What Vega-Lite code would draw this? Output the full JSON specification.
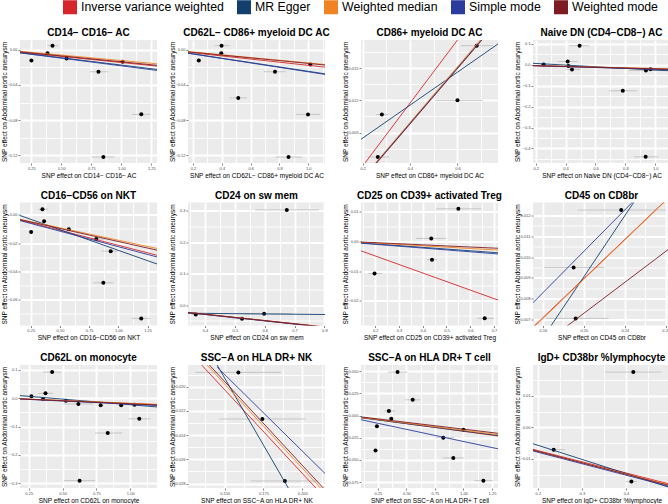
{
"$schema": "https://vega.github.io/schema/vega-lite/v6.json",
"padding": {"left": 0, "top": 0, "right": 0, "bottom": 0},
"spacing": {"row": 11.5, "column": 11},
"columns": 4,
"datasets": {
"pts": [
{"p":1,"x":0.25,"y":-0.0124,"lo":0.235,"hi":0.265},
{"p":1,"x":0.426,"y":0.0045,"lo":0.384,"hi":0.474},
{"p":1,"x":0.384,"y":-0.0041,"lo":0.37,"hi":0.4},
{"p":1,"x":0.543,"y":-0.0101,"lo":0.525,"hi":0.56},
{"p":1,"x":0.809,"y":-0.0251,"lo":0.739,"hi":0.886},
{"p":1,"x":1.01,"y":-0.0139,"lo":0.99,"hi":1.03},
{"p":1,"x":1.166,"y":-0.0734,"lo":1.087,"hi":1.241},
{"p":1,"x":0.85,"y":-0.1218,"lo":0.752,"hi":0.943},
{"p":2,"x":0.24,"y":-0.0124,"lo":0.225,"hi":0.255},
{"p":2,"x":0.398,"y":0.0045,"lo":0.349,"hi":0.455},
{"p":2,"x":0.396,"y":-0.0041,"lo":0.38,"hi":0.41},
{"p":2,"x":0.769,"y":-0.0251,"lo":0.691,"hi":0.844},
{"p":2,"x":1.014,"y":-0.0169,"lo":1.0,"hi":1.03},
{"p":2,"x":0.514,"y":-0.0548,"lo":0.455,"hi":0.573},
{"p":2,"x":0.998,"y":-0.0735,"lo":0.915,"hi":1.08},
{"p":2,"x":0.863,"y":-0.1219,"lo":0.773,"hi":0.957},
{"p":3,"x":0.681,"y":0.01709,"lo":0.614,"hi":0.75},
{"p":3,"x":0.6,"y":0.012,"lo":0.507,"hi":0.707},
{"p":3,"x":0.281,"y":0.01068,"lo":0.257,"hi":0.307},
{"p":3,"x":0.264,"y":0.00672,"lo":0.221,"hi":0.311},
{"p":4,"x":0.253,"y":0.002,"lo":0.235,"hi":0.272},
{"p":4,"x":0.494,"y":0.092,"lo":0.425,"hi":0.558},
{"p":4,"x":0.414,"y":0.016,"lo":0.348,"hi":0.48},
{"p":4,"x":0.419,"y":-0.006,"lo":0.4,"hi":0.44},
{"p":4,"x":0.443,"y":-0.022,"lo":0.403,"hi":0.503},
{"p":4,"x":0.938,"y":-0.027,"lo":0.823,"hi":1.05},
{"p":4,"x":0.969,"y":-0.021,"lo":0.95,"hi":0.99},
{"p":4,"x":0.783,"y":-0.124,"lo":0.69,"hi":0.878},
{"p":4,"x":0.936,"y":-0.44,"lo":0.858,"hi":1.02},
{"p":5,"x":0.253,"y":-0.0121,"lo":0.235,"hi":0.27},
{"p":5,"x":0.35,"y":0.0039,"lo":0.313,"hi":0.399},
{"p":5,"x":0.364,"y":-0.0046,"lo":0.35,"hi":0.38},
{"p":5,"x":0.576,"y":-0.0103,"lo":0.56,"hi":0.59},
{"p":5,"x":0.811,"y":-0.0172,"lo":0.742,"hi":0.885},
{"p":5,"x":0.934,"y":-0.0257,"lo":0.857,"hi":0.999},
{"p":5,"x":0.871,"y":-0.0481,"lo":0.785,"hi":0.957},
{"p":5,"x":1.195,"y":-0.0733,"lo":1.115,"hi":1.272},
{"p":6,"x":0.369,"y":-0.0298,"lo":0.355,"hi":0.385},
{"p":6,"x":0.524,"y":-0.0432,"lo":0.49,"hi":0.56},
{"p":6,"x":0.598,"y":-0.0278,"lo":0.53,"hi":0.69},
{"p":6,"x":0.674,"y":0.302,"lo":0.568,"hi":0.782},
{"p":7,"x":0.55,"y":0.0108,"lo":0.457,"hi":0.645},
{"p":7,"x":0.436,"y":0.0009,"lo":0.372,"hi":0.5},
{"p":7,"x":0.439,"y":-0.0062,"lo":0.418,"hi":0.46},
{"p":7,"x":0.197,"y":-0.0108,"lo":0.172,"hi":0.229},
{"p":7,"x":0.661,"y":-0.0258,"lo":0.63,"hi":0.7},
{"p":8,"x":0.2365,"y":0.01226,"lo":0.194,"hi":0.28},
{"p":8,"x":0.19,"y":0.0095,"lo":0.161,"hi":0.22},
{"p":8,"x":0.192,"y":0.00706,"lo":0.163,"hi":0.224},
{"p":9,"x":0.27,"y":0.0069,"lo":0.255,"hi":0.285},
{"p":9,"x":0.423,"y":0.092,"lo":0.356,"hi":0.49},
{"p":9,"x":0.374,"y":0.017,"lo":0.319,"hi":0.43},
{"p":9,"x":0.356,"y":-0.0034,"lo":0.34,"hi":0.37},
{"p":9,"x":0.525,"y":-0.009,"lo":0.51,"hi":0.54},
{"p":9,"x":0.617,"y":-0.0206,"lo":0.505,"hi":0.728},
{"p":9,"x":0.782,"y":-0.025,"lo":0.765,"hi":0.8},
{"p":9,"x":0.933,"y":-0.025,"lo":0.915,"hi":0.95},
{"p":9,"x":1.032,"y":-0.023,"lo":1.01,"hi":1.05},
{"p":9,"x":1.067,"y":-0.073,"lo":0.988,"hi":1.148},
{"p":9,"x":0.834,"y":-0.123,"lo":0.74,"hi":0.94},
{"p":9,"x":0.626,"y":-0.291,"lo":0.51,"hi":0.74},
{"p":10,"x":0.1588,"y":-0.01882,"lo":0.1311,"hi":0.1862},
{"p":10,"x":0.1743,"y":-0.02267,"lo":0.1465,"hi":0.2022},
{"p":10,"x":0.1888,"y":-0.02779,"lo":0.1668,"hi":0.2103},
{"p":11,"x":0.422,"y":0.0489,"lo":0.339,"hi":0.508},
{"p":11,"x":0.555,"y":0.0177,"lo":0.487,"hi":0.623},
{"p":11,"x":0.346,"y":0.0051,"lo":0.308,"hi":0.398},
{"p":11,"x":0.367,"y":-0.0036,"lo":0.35,"hi":0.385},
{"p":11,"x":0.241,"y":-0.012,"lo":0.225,"hi":0.26},
{"p":11,"x":0.229,"y":-0.0394,"lo":0.21,"hi":0.25},
{"p":11,"x":0.823,"y":-0.025,"lo":0.754,"hi":0.918},
{"p":11,"x":1.0,"y":-0.016,"lo":0.98,"hi":1.02},
{"p":11,"x":0.911,"y":-0.0477,"lo":0.819,"hi":1.003},
{"p":11,"x":1.175,"y":-0.0733,"lo":1.094,"hi":1.258},
{"p":12,"x":0.4167,"y":0.0175,"lo":0.353,"hi":0.48},
{"p":12,"x":0.236,"y":-0.0071,"lo":0.225,"hi":0.262},
{"p":12,"x":0.4124,"y":-0.0172,"lo":0.4,"hi":0.425}
],
"lines": [
{"p":1,"m":"Inverse variance weighted","x1":0.155,"y1":-0.003,"x2":1.297,"y2":-0.0187},
{"p":1,"m":"MR Egger","x1":0.155,"y1":-0.0035,"x2":1.297,"y2":-0.0225},
{"p":1,"m":"Weighted median","x1":0.155,"y1":-0.0019,"x2":1.297,"y2":-0.0161},
{"p":1,"m":"Simple mode","x1":0.155,"y1":-0.0037,"x2":1.297,"y2":-0.0236},
{"p":1,"m":"Weighted mode","x1":0.155,"y1":-0.0025,"x2":1.297,"y2":-0.0178},
{"p":2,"m":"Inverse variance weighted","x1":0.165,"y1":-0.003,"x2":1.116,"y2":-0.0199},
{"p":2,"m":"MR Egger","x1":0.165,"y1":-0.004,"x2":1.116,"y2":-0.0275},
{"p":2,"m":"Weighted median","x1":0.165,"y1":-0.0023,"x2":1.116,"y2":-0.0169},
{"p":2,"m":"Simple mode","x1":0.165,"y1":-0.0041,"x2":1.116,"y2":-0.0281},
{"p":2,"m":"Weighted mode","x1":0.165,"y1":-0.0025,"x2":1.116,"y2":-0.0175},
{"p":3,"m":"Inverse variance weighted","x1":0.193,"y1":0.00567,"x2":0.771,"y2":0.02264},
{"p":3,"m":"MR Egger","x1":0.193,"y1":0.00838,"x2":0.771,"y2":0.01725},
{"p":3,"m":"Weighted median","x1":0.193,"y1":0.00459,"x2":0.771,"y2":0.01956},
{"p":3,"m":"Simple mode","x1":0.193,"y1":0.00452,"x2":0.771,"y2":0.01943},
{"p":3,"m":"Weighted mode","x1":0.193,"y1":0.00447,"x2":0.771,"y2":0.01937},
{"p":4,"m":"Inverse variance weighted","x1":0.182,"y1":-0.0036,"x2":1.099,"y2":-0.0215},
{"p":4,"m":"MR Egger","x1":0.182,"y1":0.0075,"x2":1.099,"y2":-0.0285},
{"p":4,"m":"Weighted median","x1":0.182,"y1":-0.003,"x2":1.099,"y2":-0.019},
{"p":4,"m":"Simple mode","x1":0.182,"y1":-0.004,"x2":1.099,"y2":-0.023},
{"p":4,"m":"Weighted mode","x1":0.182,"y1":-0.0035,"x2":1.099,"y2":-0.021},
{"p":5,"m":"Inverse variance weighted","x1":0.158,"y1":-0.0037,"x2":1.33,"y2":-0.0286},
{"p":5,"m":"MR Egger","x1":0.158,"y1":-0.0005,"x2":1.33,"y2":-0.0348},
{"p":5,"m":"Weighted median","x1":0.158,"y1":-0.0032,"x2":1.33,"y2":-0.0238},
{"p":5,"m":"Simple mode","x1":0.158,"y1":-0.0041,"x2":1.33,"y2":-0.0298},
{"p":5,"m":"Weighted mode","x1":0.158,"y1":-0.0034,"x2":1.33,"y2":-0.025},
{"p":6,"m":"Inverse variance weighted","x1":0.343,"y1":-0.0236,"x2":0.802,"y2":-0.0699},
{"p":6,"m":"MR Egger","x1":0.343,"y1":-0.0257,"x2":0.802,"y2":-0.0298},
{"p":6,"m":"Weighted median","x1":0.343,"y1":-0.023,"x2":0.802,"y2":-0.069},
{"p":6,"m":"Simple mode","x1":0.343,"y1":-0.024,"x2":0.802,"y2":-0.0705},
{"p":6,"m":"Weighted mode","x1":0.343,"y1":-0.0233,"x2":0.802,"y2":-0.0695},
{"p":7,"m":"Inverse variance weighted","x1":0.14,"y1":-0.00325,"x2":0.717,"y2":-0.0197},
{"p":7,"m":"MR Egger","x1":0.14,"y1":-0.0006,"x2":0.717,"y2":-0.0039},
{"p":7,"m":"Weighted median","x1":0.14,"y1":-0.0004,"x2":0.717,"y2":-0.003},
{"p":7,"m":"Simple mode","x1":0.14,"y1":-0.0007,"x2":0.717,"y2":-0.0043},
{"p":7,"m":"Weighted mode","x1":0.14,"y1":-0.0003,"x2":0.717,"y2":-0.0024},
{"p":8,"m":"Inverse variance weighted","x1":0.1503,"y1":0.00664,"x2":0.2842,"y2":0.01292},
{"p":8,"m":"MR Egger","x1":0.1503,"y1":0.00542,"x2":0.2842,"y2":0.01522},
{"p":8,"m":"Weighted median","x1":0.1503,"y1":0.0066,"x2":0.2842,"y2":0.0129},
{"p":8,"m":"Simple mode","x1":0.1503,"y1":0.00781,"x2":0.2842,"y2":0.01446},
{"p":8,"m":"Weighted mode","x1":0.1503,"y1":0.00546,"x2":0.2842,"y2":0.01043},
{"p":9,"m":"Inverse variance weighted","x1":0.1856,"y1":-0.0023,"x2":1.198,"y2":-0.0229},
{"p":9,"m":"MR Egger","x1":0.1856,"y1":0.009,"x2":1.198,"y2":-0.031},
{"p":9,"m":"Weighted median","x1":0.1856,"y1":-0.002,"x2":1.198,"y2":-0.022},
{"p":9,"m":"Simple mode","x1":0.1856,"y1":-0.003,"x2":1.198,"y2":-0.026},
{"p":9,"m":"Weighted mode","x1":0.1856,"y1":-0.0025,"x2":1.198,"y2":-0.024},
{"p":10,"m":"Inverse variance weighted","x1":0.1351,"y1":-0.01821,"x2":0.2088,"y2":-0.02837},
{"p":10,"m":"MR Egger","x1":0.1451,"y1":-0.01821,"x2":0.1916,"y2":-0.0285},
{"p":10,"m":"Weighted median","x1":0.1386,"y1":-0.01821,"x2":0.2118,"y2":-0.02837},
{"p":10,"m":"Simple mode","x1":0.1452,"y1":-0.0184,"x2":0.2147,"y2":-0.02717},
{"p":10,"m":"Weighted mode","x1":0.1401,"y1":-0.01821,"x2":0.2136,"y2":-0.02837},
{"p":11,"m":"Inverse variance weighted","x1":0.1016,"y1":-0.0022,"x2":1.303,"y2":-0.023},
{"p":11,"m":"MR Egger","x1":0.1016,"y1":-0.0025,"x2":1.303,"y2":-0.0225},
{"p":11,"m":"Weighted median","x1":0.1016,"y1":-0.002,"x2":1.303,"y2":-0.0215},
{"p":11,"m":"Simple mode","x1":0.1016,"y1":-0.0047,"x2":1.303,"y2":-0.0375},
{"p":11,"m":"Weighted mode","x1":0.1016,"y1":-0.0015,"x2":1.303,"y2":-0.02},
{"p":12,"m":"Inverse variance weighted","x1":0.189,"y1":-0.007,"x2":0.5,"y2":-0.018},
{"p":12,"m":"MR Egger","x1":0.189,"y1":-0.0052,"x2":0.5,"y2":-0.0191},
{"p":12,"m":"Weighted median","x1":0.189,"y1":-0.0073,"x2":0.5,"y2":-0.0183},
{"p":12,"m":"Simple mode","x1":0.189,"y1":-0.0075,"x2":0.5,"y2":-0.0188},
{"p":12,"m":"Weighted mode","x1":0.189,"y1":-0.0072,"x2":0.5,"y2":-0.0185}
]
},
"concat": [
{"title":"CD14− CD16− AC","width":137,"height":123,"layer":[
{"data":{"name":"pts"},"transform":[{"filter":"datum.p==1"}],"mark":{"type":"rule","color":"#B5B5B5","strokeWidth":0.7},
"encoding":{"x":{"field":"lo","type":"quantitative","scale":{"domain":[0.155,1.297],"nice":false,"zero":false},"axis":{"tickCount":100,"gridColor":"#FFFFFF","grid":true,"labelOverlap":false,"title":"SNP effect on CD14− CD16− AC","values":[0.25,0.375,0.5,0.625,0.75,0.875,1,1.125,1.25],"format":".2f","labelExpr":"indexof([0.25,0.5,0.75,1,1.25],datum.value)>=0?datum.label:''","gridWidth":{"condition":{"test":"indexof([0.25,0.5,0.75,1,1.25],datum.value)>=0","value":1.8},"value":0.9},"tickOpacity":{"condition":{"test":"indexof([0.25,0.5,0.75,1,1.25],datum.value)>=0","value":1},"value":0}}},
"x2":{"field":"hi"},
"y":{"field":"y","type":"quantitative","scale":{"domain":[-0.1286,0.0109],"nice":false,"zero":false},"axis":{"tickCount":100,"gridColor":"#FFFFFF","grid":true,"labelOverlap":false,"title":"SNP effect on Abdominal aortic aneurysm","values":[0,-0.02,-0.04,-0.06,-0.08,-0.1,-0.12],"format":".2f","labelExpr":"indexof([0,-0.04,-0.08,-0.12],datum.value)>=0?datum.label:''","gridWidth":{"condition":{"test":"indexof([0,-0.04,-0.08,-0.12],datum.value)>=0","value":1.8},"value":0.9},"tickOpacity":{"condition":{"test":"indexof([0,-0.04,-0.08,-0.12],datum.value)>=0","value":1},"value":0}}}}},
{"data":{"name":"pts"},"transform":[{"filter":"datum.p==1"}],"mark":{"type":"circle","color":"#000000","size":16,"opacity":1},"encoding":{"x":{"field":"x","type":"quantitative"},"y":{"field":"y","type":"quantitative"}}},
{"data":{"name":"lines"},"transform":[{"filter":"datum.p==1"}],"mark":{"type":"rule","clip":true,"strokeWidth":0.9},"encoding":{"x":{"field":"x1","type":"quantitative"},"x2":{"field":"x2"},"y":{"field":"y1","type":"quantitative"},"y2":{"field":"y2"},"color":{"field":"m","type":"nominal","title":null,"scale":{"domain":["Inverse variance weighted","MR Egger","Weighted median","Simple mode","Weighted mode"],"range":["#D7262B","#123F6E","#F08424","#2B3C9E","#7D1C22"]}}}}
]},
{"title":"CD62L− CD86+ myeloid DC AC","width":137,"height":123,"layer":[
{"data":{"name":"pts"},"transform":[{"filter":"datum.p==2"}],"mark":{"type":"rule","color":"#B5B5B5","strokeWidth":0.7},
"encoding":{"x":{"field":"lo","type":"quantitative","scale":{"domain":[0.165,1.116],"nice":false,"zero":false},"axis":{"tickCount":100,"gridColor":"#FFFFFF","grid":true,"labelOverlap":false,"title":"SNP effect on CD62L− CD86+ myeloid DC AC","values":[0.2,0.3,0.4,0.5,0.6,0.7,0.8,0.9,1,1.1],"format":".1f","labelExpr":"indexof([0.2,0.4,0.6,0.8,1],datum.value)>=0?datum.label:''","gridWidth":{"condition":{"test":"indexof([0.2,0.4,0.6,0.8,1],datum.value)>=0","value":1.8},"value":0.9},"tickOpacity":{"condition":{"test":"indexof([0.2,0.4,0.6,0.8,1],datum.value)>=0","value":1},"value":0}}},
"x2":{"field":"hi"},
"y":{"field":"y","type":"quantitative","scale":{"domain":[-0.1286,0.0109],"nice":false,"zero":false},"axis":{"tickCount":100,"gridColor":"#FFFFFF","grid":true,"labelOverlap":false,"title":"SNP effect on Abdominal aortic aneurysm","values":[0,-0.02,-0.04,-0.06,-0.08,-0.1,-0.12],"format":".2f","labelExpr":"indexof([0,-0.04,-0.08,-0.12],datum.value)>=0?datum.label:''","gridWidth":{"condition":{"test":"indexof([0,-0.04,-0.08,-0.12],datum.value)>=0","value":1.8},"value":0.9},"tickOpacity":{"condition":{"test":"indexof([0,-0.04,-0.08,-0.12],datum.value)>=0","value":1},"value":0}}}}},
{"data":{"name":"pts"},"transform":[{"filter":"datum.p==2"}],"mark":{"type":"circle","color":"#000000","size":16,"opacity":1},"encoding":{"x":{"field":"x","type":"quantitative"},"y":{"field":"y","type":"quantitative"}}},
{"data":{"name":"lines"},"transform":[{"filter":"datum.p==2"}],"mark":{"type":"rule","clip":true,"strokeWidth":0.9},"encoding":{"x":{"field":"x1","type":"quantitative"},"x2":{"field":"x2"},"y":{"field":"y1","type":"quantitative"},"y2":{"field":"y2"},"color":{"field":"m","type":"nominal","title":null,"scale":{"domain":["Inverse variance weighted","MR Egger","Weighted median","Simple mode","Weighted mode"],"range":["#D7262B","#123F6E","#F08424","#2B3C9E","#7D1C22"]}}}}
]},
{"title":"CD86+ myeloid DC AC","width":137,"height":123,"layer":[
{"data":{"name":"pts"},"transform":[{"filter":"datum.p==3"}],"mark":{"type":"rule","color":"#B5B5B5","strokeWidth":0.7},
"encoding":{"x":{"field":"lo","type":"quantitative","scale":{"domain":[0.193,0.771],"nice":false,"zero":false},"axis":{"tickCount":100,"gridColor":"#FFFFFF","grid":true,"labelOverlap":false,"title":"SNP effect on CD86+ myeloid DC AC","values":[0.2,0.3,0.4,0.5,0.6,0.7],"format":".1f","labelExpr":"indexof([0.2,0.4,0.6],datum.value)>=0?datum.label:''","gridWidth":{"condition":{"test":"indexof([0.2,0.4,0.6],datum.value)>=0","value":1.8},"value":0.9},"tickOpacity":{"condition":{"test":"indexof([0.2,0.4,0.6],datum.value)>=0","value":1},"value":0}}},
"x2":{"field":"hi"},
"y":{"field":"y","type":"quantitative","scale":{"domain":[0.00617,0.01762],"nice":false,"zero":false},"axis":{"tickCount":100,"gridColor":"#FFFFFF","grid":true,"labelOverlap":false,"title":"SNP effect on Abdominal aortic aneurysm","values":[0.0075,0.009,0.0105,0.012,0.0135,0.015,0.0165],"format":".3f","labelExpr":"indexof([0.009,0.012,0.015],datum.value)>=0?datum.label:''","gridWidth":{"condition":{"test":"indexof([0.009,0.012,0.015],datum.value)>=0","value":1.8},"value":0.9},"tickOpacity":{"condition":{"test":"indexof([0.009,0.012,0.015],datum.value)>=0","value":1},"value":0}}}}},
{"data":{"name":"pts"},"transform":[{"filter":"datum.p==3"}],"mark":{"type":"circle","color":"#000000","size":16,"opacity":1},"encoding":{"x":{"field":"x","type":"quantitative"},"y":{"field":"y","type":"quantitative"}}},
{"data":{"name":"lines"},"transform":[{"filter":"datum.p==3"}],"mark":{"type":"rule","clip":true,"strokeWidth":0.9},"encoding":{"x":{"field":"x1","type":"quantitative"},"x2":{"field":"x2"},"y":{"field":"y1","type":"quantitative"},"y2":{"field":"y2"},"color":{"field":"m","type":"nominal","title":null,"scale":{"domain":["Inverse variance weighted","MR Egger","Weighted median","Simple mode","Weighted mode"],"range":["#D7262B","#123F6E","#F08424","#2B3C9E","#7D1C22"]}}}}
]},
{"title":"Naive DN (CD4−CD8−) AC","width":137,"height":123,"layer":[
{"data":{"name":"pts"},"transform":[{"filter":"datum.p==4"}],"mark":{"type":"rule","color":"#B5B5B5","strokeWidth":0.7},
"encoding":{"x":{"field":"lo","type":"quantitative","scale":{"domain":[0.182,1.099],"nice":false,"zero":false},"axis":{"tickCount":100,"gridColor":"#FFFFFF","grid":true,"labelOverlap":false,"title":"SNP effect on Naive DN (CD4−CD8−) AC","values":[0.2,0.3,0.4,0.5,0.6,0.7,0.8,0.9,1],"format":".1f","labelExpr":"indexof([0.2,0.4,0.6,0.8,1],datum.value)>=0?datum.label:''","gridWidth":{"condition":{"test":"indexof([0.2,0.4,0.6,0.8,1],datum.value)>=0","value":1.8},"value":0.9},"tickOpacity":{"condition":{"test":"indexof([0.2,0.4,0.6,0.8,1],datum.value)>=0","value":1},"value":0}}},
"x2":{"field":"hi"},
"y":{"field":"y","type":"quantitative","scale":{"domain":[-0.4696,0.119],"nice":false,"zero":false},"axis":{"tickCount":100,"gridColor":"#FFFFFF","grid":true,"labelOverlap":false,"title":"SNP effect on Abdominal aortic aneurysm","values":[0.1,0.05,0,-0.05,-0.1,-0.15,-0.2,-0.25,-0.3,-0.35,-0.4,-0.45],"format":".1f","labelExpr":"indexof([0.1,0,-0.1,-0.2,-0.3,-0.4],datum.value)>=0?datum.label:''","gridWidth":{"condition":{"test":"indexof([0.1,0,-0.1,-0.2,-0.3,-0.4],datum.value)>=0","value":1.8},"value":0.9},"tickOpacity":{"condition":{"test":"indexof([0.1,0,-0.1,-0.2,-0.3,-0.4],datum.value)>=0","value":1},"value":0}}}}},
{"data":{"name":"pts"},"transform":[{"filter":"datum.p==4"}],"mark":{"type":"circle","color":"#000000","size":16,"opacity":1},"encoding":{"x":{"field":"x","type":"quantitative"},"y":{"field":"y","type":"quantitative"}}},
{"data":{"name":"lines"},"transform":[{"filter":"datum.p==4"}],"mark":{"type":"rule","clip":true,"strokeWidth":0.9},"encoding":{"x":{"field":"x1","type":"quantitative"},"x2":{"field":"x2"},"y":{"field":"y1","type":"quantitative"},"y2":{"field":"y2"},"color":{"field":"m","type":"nominal","title":null,"scale":{"domain":["Inverse variance weighted","MR Egger","Weighted median","Simple mode","Weighted mode"],"range":["#D7262B","#123F6E","#F08424","#2B3C9E","#7D1C22"]}}}}
]},
{"title":"CD16−CD56 on NKT","width":137,"height":123,"layer":[
{"data":{"name":"pts"},"transform":[{"filter":"datum.p==5"}],"mark":{"type":"rule","color":"#B5B5B5","strokeWidth":0.7},
"encoding":{"x":{"field":"lo","type":"quantitative","scale":{"domain":[0.158,1.33],"nice":false,"zero":false},"axis":{"tickCount":100,"gridColor":"#FFFFFF","grid":true,"labelOverlap":false,"title":"SNP effect on CD16−CD56 on NKT","values":[0.25,0.375,0.5,0.625,0.75,0.875,1,1.125,1.25],"format":".2f","labelExpr":"indexof([0.25,0.5,0.75,1,1.25],datum.value)>=0?datum.label:''","gridWidth":{"condition":{"test":"indexof([0.25,0.5,0.75,1,1.25],datum.value)>=0","value":1.8},"value":0.9},"tickOpacity":{"condition":{"test":"indexof([0.25,0.5,0.75,1,1.25],datum.value)>=0","value":1},"value":0}}},
"x2":{"field":"hi"},
"y":{"field":"y","type":"quantitative","scale":{"domain":[-0.0783,0.0087],"nice":false,"zero":false},"axis":{"tickCount":100,"gridColor":"#FFFFFF","grid":true,"labelOverlap":false,"title":"SNP effect on Abdominal aortic aneurysm","values":[0,-0.01,-0.02,-0.03,-0.04,-0.05,-0.06,-0.07],"format":".2f","labelExpr":"indexof([0,-0.02,-0.04,-0.06],datum.value)>=0?datum.label:''","gridWidth":{"condition":{"test":"indexof([0,-0.02,-0.04,-0.06],datum.value)>=0","value":1.8},"value":0.9},"tickOpacity":{"condition":{"test":"indexof([0,-0.02,-0.04,-0.06],datum.value)>=0","value":1},"value":0}}}}},
{"data":{"name":"pts"},"transform":[{"filter":"datum.p==5"}],"mark":{"type":"circle","color":"#000000","size":16,"opacity":1},"encoding":{"x":{"field":"x","type":"quantitative"},"y":{"field":"y","type":"quantitative"}}},
{"data":{"name":"lines"},"transform":[{"filter":"datum.p==5"}],"mark":{"type":"rule","clip":true,"strokeWidth":0.9},"encoding":{"x":{"field":"x1","type":"quantitative"},"x2":{"field":"x2"},"y":{"field":"y1","type":"quantitative"},"y2":{"field":"y2"},"color":{"field":"m","type":"nominal","title":null,"scale":{"domain":["Inverse variance weighted","MR Egger","Weighted median","Simple mode","Weighted mode"],"range":["#D7262B","#123F6E","#F08424","#2B3C9E","#7D1C22"]}}}}
]},
{"title":"CD24 on sw mem","width":137,"height":123,"layer":[
{"data":{"name":"pts"},"transform":[{"filter":"datum.p==6"}],"mark":{"type":"rule","color":"#B5B5B5","strokeWidth":0.7},
"encoding":{"x":{"field":"lo","type":"quantitative","scale":{"domain":[0.343,0.802],"nice":false,"zero":false},"axis":{"tickCount":100,"gridColor":"#FFFFFF","grid":true,"labelOverlap":false,"title":"SNP effect on CD24 on sw mem","values":[0.35,0.4,0.45,0.5,0.55,0.6,0.65,0.7,0.75,0.8],"format":".1f","labelExpr":"indexof([0.4,0.5,0.6,0.7,0.8],datum.value)>=0?datum.label:''","gridWidth":{"condition":{"test":"indexof([0.4,0.5,0.6,0.7,0.8],datum.value)>=0","value":1.8},"value":0.9},"tickOpacity":{"condition":{"test":"indexof([0.4,0.5,0.6,0.7,0.8],datum.value)>=0","value":1},"value":0}}},
"x2":{"field":"hi"},
"y":{"field":"y","type":"quantitative","scale":{"domain":[-0.0647,0.3257],"nice":false,"zero":false},"axis":{"tickCount":100,"gridColor":"#FFFFFF","grid":true,"labelOverlap":false,"title":"SNP effect on Abdominal aortic aneurysm","values":[-0.05,0,0.05,0.1,0.15,0.2,0.25,0.3],"format":".1f","labelExpr":"indexof([0,0.1,0.2,0.3],datum.value)>=0?datum.label:''","gridWidth":{"condition":{"test":"indexof([0,0.1,0.2,0.3],datum.value)>=0","value":1.8},"value":0.9},"tickOpacity":{"condition":{"test":"indexof([0,0.1,0.2,0.3],datum.value)>=0","value":1},"value":0}}}}},
{"data":{"name":"pts"},"transform":[{"filter":"datum.p==6"}],"mark":{"type":"circle","color":"#000000","size":16,"opacity":1},"encoding":{"x":{"field":"x","type":"quantitative"},"y":{"field":"y","type":"quantitative"}}},
{"data":{"name":"lines"},"transform":[{"filter":"datum.p==6"}],"mark":{"type":"rule","clip":true,"strokeWidth":0.9},"encoding":{"x":{"field":"x1","type":"quantitative"},"x2":{"field":"x2"},"y":{"field":"y1","type":"quantitative"},"y2":{"field":"y2"},"color":{"field":"m","type":"nominal","title":null,"scale":{"domain":["Inverse variance weighted","MR Egger","Weighted median","Simple mode","Weighted mode"],"range":["#D7262B","#123F6E","#F08424","#2B3C9E","#7D1C22"]}}}}
]},
{"title":"CD25 on CD39+ activated Treg","width":137,"height":123,"layer":[
{"data":{"name":"pts"},"transform":[{"filter":"datum.p==7"}],"mark":{"type":"rule","color":"#B5B5B5","strokeWidth":0.7},
"encoding":{"x":{"field":"lo","type":"quantitative","scale":{"domain":[0.14,0.717],"nice":false,"zero":false},"axis":{"tickCount":100,"gridColor":"#FFFFFF","grid":true,"labelOverlap":false,"title":"SNP effect on CD25 on CD39+ activated Treg","values":[0.15,0.2,0.25,0.3,0.35,0.4,0.45,0.5,0.55,0.6,0.65,0.7],"format":".1f","labelExpr":"indexof([0.2,0.3,0.4,0.5,0.6,0.7],datum.value)>=0?datum.label:''","gridWidth":{"condition":{"test":"indexof([0.2,0.3,0.4,0.5,0.6,0.7],datum.value)>=0","value":1.8},"value":0.9},"tickOpacity":{"condition":{"test":"indexof([0.2,0.3,0.4,0.5,0.6,0.7],datum.value)>=0","value":1},"value":0}}},
"x2":{"field":"hi"},
"y":{"field":"y","type":"quantitative","scale":{"domain":[-0.0282,0.0129],"nice":false,"zero":false},"axis":{"tickCount":100,"gridColor":"#FFFFFF","grid":true,"labelOverlap":false,"title":"SNP effect on Abdominal aortic aneurysm","values":[0.01,0.005,0,-0.005,-0.01,-0.015,-0.02,-0.025],"format":".2f","labelExpr":"indexof([0.01,0,-0.01,-0.02],datum.value)>=0?datum.label:''","gridWidth":{"condition":{"test":"indexof([0.01,0,-0.01,-0.02],datum.value)>=0","value":1.8},"value":0.9},"tickOpacity":{"condition":{"test":"indexof([0.01,0,-0.01,-0.02],datum.value)>=0","value":1},"value":0}}}}},
{"data":{"name":"pts"},"transform":[{"filter":"datum.p==7"}],"mark":{"type":"circle","color":"#000000","size":16,"opacity":1},"encoding":{"x":{"field":"x","type":"quantitative"},"y":{"field":"y","type":"quantitative"}}},
{"data":{"name":"lines"},"transform":[{"filter":"datum.p==7"}],"mark":{"type":"rule","clip":true,"strokeWidth":0.9},"encoding":{"x":{"field":"x1","type":"quantitative"},"x2":{"field":"x2"},"y":{"field":"y1","type":"quantitative"},"y2":{"field":"y2"},"color":{"field":"m","type":"nominal","title":null,"scale":{"domain":["Inverse variance weighted","MR Egger","Weighted median","Simple mode","Weighted mode"],"range":["#D7262B","#123F6E","#F08424","#2B3C9E","#7D1C22"]}}}}
]},
{"title":"CD45 on CD8br","width":137,"height":123,"layer":[
{"data":{"name":"pts"},"transform":[{"filter":"datum.p==8"}],"mark":{"type":"rule","color":"#B5B5B5","strokeWidth":0.7},
"encoding":{"x":{"field":"lo","type":"quantitative","scale":{"domain":[0.1503,0.2842],"nice":false,"zero":false},"axis":{"tickCount":100,"gridColor":"#FFFFFF","grid":true,"labelOverlap":false,"title":"SNP effect on CD45 on CD8br","values":[0.16,0.18,0.2,0.22,0.24,0.26,0.28],"format":".2f","labelExpr":"indexof([0.16,0.2,0.24,0.28],datum.value)>=0?datum.label:''","gridWidth":{"condition":{"test":"indexof([0.16,0.2,0.24,0.28],datum.value)>=0","value":1.8},"value":0.9},"tickOpacity":{"condition":{"test":"indexof([0.16,0.2,0.24,0.28],datum.value)>=0","value":1},"value":0}}},
"x2":{"field":"hi"},
"y":{"field":"y","type":"quantitative","scale":{"domain":[0.00672,0.01262],"nice":false,"zero":false},"axis":{"tickCount":100,"gridColor":"#FFFFFF","grid":true,"labelOverlap":false,"title":"SNP effect on Abdominal aortic aneurysm","values":[0.007,0.0075,0.008,0.0085,0.009,0.0095,0.01,0.0105,0.011,0.0115,0.012],"format":".3f","labelExpr":"indexof([0.007,0.008,0.009,0.01,0.011,0.012],datum.value)>=0?datum.label:''","gridWidth":{"condition":{"test":"indexof([0.007,0.008,0.009,0.01,0.011,0.012],datum.value)>=0","value":1.8},"value":0.9},"tickOpacity":{"condition":{"test":"indexof([0.007,0.008,0.009,0.01,0.011,0.012],datum.value)>=0","value":1},"value":0}}}}},
{"data":{"name":"pts"},"transform":[{"filter":"datum.p==8"}],"mark":{"type":"circle","color":"#000000","size":16,"opacity":1},"encoding":{"x":{"field":"x","type":"quantitative"},"y":{"field":"y","type":"quantitative"}}},
{"data":{"name":"lines"},"transform":[{"filter":"datum.p==8"}],"mark":{"type":"rule","clip":true,"strokeWidth":0.9},"encoding":{"x":{"field":"x1","type":"quantitative"},"x2":{"field":"x2"},"y":{"field":"y1","type":"quantitative"},"y2":{"field":"y2"},"color":{"field":"m","type":"nominal","title":null,"scale":{"domain":["Inverse variance weighted","MR Egger","Weighted median","Simple mode","Weighted mode"],"range":["#D7262B","#123F6E","#F08424","#2B3C9E","#7D1C22"]}}}}
]},
{"title":"CD62L on monocyte","width":137,"height":123,"layer":[
{"data":{"name":"pts"},"transform":[{"filter":"datum.p==9"}],"mark":{"type":"rule","color":"#B5B5B5","strokeWidth":0.7},
"encoding":{"x":{"field":"lo","type":"quantitative","scale":{"domain":[0.1856,1.198],"nice":false,"zero":false},"axis":{"tickCount":100,"gridColor":"#FFFFFF","grid":true,"labelOverlap":false,"title":"SNP effect on CD62L on monocyte","values":[0.25,0.375,0.5,0.625,0.75,0.875,1,1.125],"format":".2f","labelExpr":"indexof([0.25,0.5,0.75,1],datum.value)>=0?datum.label:''","gridWidth":{"condition":{"test":"indexof([0.25,0.5,0.75,1],datum.value)>=0","value":1.8},"value":0.9},"tickOpacity":{"condition":{"test":"indexof([0.25,0.5,0.75,1],datum.value)>=0","value":1},"value":0}}},
"x2":{"field":"hi"},
"y":{"field":"y","type":"quantitative","scale":{"domain":[-0.317,0.117],"nice":false,"zero":false},"axis":{"tickCount":100,"gridColor":"#FFFFFF","grid":true,"labelOverlap":false,"title":"SNP effect on Abdominal aortic aneurysm","values":[0.1,0.05,0,-0.05,-0.1,-0.15,-0.2,-0.25,-0.3],"format":".1f","labelExpr":"indexof([0.1,0,-0.1,-0.2,-0.3],datum.value)>=0?datum.label:''","gridWidth":{"condition":{"test":"indexof([0.1,0,-0.1,-0.2,-0.3],datum.value)>=0","value":1.8},"value":0.9},"tickOpacity":{"condition":{"test":"indexof([0.1,0,-0.1,-0.2,-0.3],datum.value)>=0","value":1},"value":0}}}}},
{"data":{"name":"pts"},"transform":[{"filter":"datum.p==9"}],"mark":{"type":"circle","color":"#000000","size":16,"opacity":1},"encoding":{"x":{"field":"x","type":"quantitative"},"y":{"field":"y","type":"quantitative"}}},
{"data":{"name":"lines"},"transform":[{"filter":"datum.p==9"}],"mark":{"type":"rule","clip":true,"strokeWidth":0.9},"encoding":{"x":{"field":"x1","type":"quantitative"},"x2":{"field":"x2"},"y":{"field":"y1","type":"quantitative"},"y2":{"field":"y2"},"color":{"field":"m","type":"nominal","title":null,"scale":{"domain":["Inverse variance weighted","MR Egger","Weighted median","Simple mode","Weighted mode"],"range":["#D7262B","#123F6E","#F08424","#2B3C9E","#7D1C22"]}}}}
]},
{"title":"SSC−A on HLA DR+ NK","width":137,"height":123,"layer":[
{"data":{"name":"pts"},"transform":[{"filter":"datum.p==10"}],"mark":{"type":"rule","color":"#B5B5B5","strokeWidth":0.7},
"encoding":{"x":{"field":"lo","type":"quantitative","scale":{"domain":[0.1263,0.2147],"nice":false,"zero":false},"axis":{"tickCount":100,"gridColor":"#FFFFFF","grid":true,"labelOverlap":false,"title":"SNP effect on SSC−A on HLA DR+ NK","values":[0.1375,0.15,0.1625,0.175,0.1875,0.2,0.2125],"format":".3f","labelExpr":"indexof([0.15,0.175,0.2],datum.value)>=0?datum.label:''","gridWidth":{"condition":{"test":"indexof([0.15,0.175,0.2],datum.value)>=0","value":1.8},"value":0.9},"tickOpacity":{"condition":{"test":"indexof([0.15,0.175,0.2],datum.value)>=0","value":1},"value":0}}},
"x2":{"field":"hi"},
"y":{"field":"y","type":"quantitative","scale":{"domain":[-0.02837,-0.01821],"nice":false,"zero":false},"axis":{"tickCount":100,"gridColor":"#FFFFFF","grid":true,"labelOverlap":false,"title":"SNP effect on Abdominal aortic aneurysm","values":[-0.019,-0.02,-0.021,-0.022,-0.023,-0.024,-0.025,-0.026,-0.027,-0.028],"format":".3f","labelExpr":"indexof([-0.02,-0.022,-0.024,-0.026,-0.028],datum.value)>=0?datum.label:''","gridWidth":{"condition":{"test":"indexof([-0.02,-0.022,-0.024,-0.026,-0.028],datum.value)>=0","value":1.8},"value":0.9},"tickOpacity":{"condition":{"test":"indexof([-0.02,-0.022,-0.024,-0.026,-0.028],datum.value)>=0","value":1},"value":0}}}}},
{"data":{"name":"pts"},"transform":[{"filter":"datum.p==10"}],"mark":{"type":"circle","color":"#000000","size":16,"opacity":1},"encoding":{"x":{"field":"x","type":"quantitative"},"y":{"field":"y","type":"quantitative"}}},
{"data":{"name":"lines"},"transform":[{"filter":"datum.p==10"}],"mark":{"type":"rule","clip":true,"strokeWidth":0.9},"encoding":{"x":{"field":"x1","type":"quantitative"},"x2":{"field":"x2"},"y":{"field":"y1","type":"quantitative"},"y2":{"field":"y2"},"color":{"field":"m","type":"nominal","title":null,"scale":{"domain":["Inverse variance weighted","MR Egger","Weighted median","Simple mode","Weighted mode"],"range":["#D7262B","#123F6E","#F08424","#2B3C9E","#7D1C22"]}}}}
]},
{"title":"SSC−A on HLA DR+ T cell","width":137,"height":123,"layer":[
{"data":{"name":"pts"},"transform":[{"filter":"datum.p==11"}],"mark":{"type":"rule","color":"#B5B5B5","strokeWidth":0.7},
"encoding":{"x":{"field":"lo","type":"quantitative","scale":{"domain":[0.1016,1.303],"nice":false,"zero":false},"axis":{"tickCount":100,"gridColor":"#FFFFFF","grid":true,"labelOverlap":false,"title":"SNP effect on SSC−A on HLA DR+ T cell","values":[0.125,0.25,0.375,0.5,0.625,0.75,0.875,1,1.125,1.25],"format":".2f","labelExpr":"indexof([0.25,0.5,0.75,1,1.25],datum.value)>=0?datum.label:''","gridWidth":{"condition":{"test":"indexof([0.25,0.5,0.75,1,1.25],datum.value)>=0","value":1.8},"value":0.9},"tickOpacity":{"condition":{"test":"indexof([0.25,0.5,0.75,1,1.25],datum.value)>=0","value":1},"value":0}}},
"x2":{"field":"hi"},
"y":{"field":"y","type":"quantitative","scale":{"domain":[-0.0816,0.0569],"nice":false,"zero":false},"axis":{"tickCount":100,"gridColor":"#FFFFFF","grid":true,"labelOverlap":false,"title":"SNP effect on Abdominal aortic aneurysm","values":[0.05,0.0375,0.025,0.0125,0,-0.0125,-0.025,-0.0375,-0.05,-0.0625,-0.075],"format":".3f","labelExpr":"indexof([0.05,0.025,0,-0.025,-0.05,-0.075],datum.value)>=0?datum.label:''","gridWidth":{"condition":{"test":"indexof([0.05,0.025,0,-0.025,-0.05,-0.075],datum.value)>=0","value":1.8},"value":0.9},"tickOpacity":{"condition":{"test":"indexof([0.05,0.025,0,-0.025,-0.05,-0.075],datum.value)>=0","value":1},"value":0}}}}},
{"data":{"name":"pts"},"transform":[{"filter":"datum.p==11"}],"mark":{"type":"circle","color":"#000000","size":16,"opacity":1},"encoding":{"x":{"field":"x","type":"quantitative"},"y":{"field":"y","type":"quantitative"}}},
{"data":{"name":"lines"},"transform":[{"filter":"datum.p==11"}],"mark":{"type":"rule","clip":true,"strokeWidth":0.9},"encoding":{"x":{"field":"x1","type":"quantitative"},"x2":{"field":"x2"},"y":{"field":"y1","type":"quantitative"},"y2":{"field":"y2"},"color":{"field":"m","type":"nominal","title":null,"scale":{"domain":["Inverse variance weighted","MR Egger","Weighted median","Simple mode","Weighted mode"],"range":["#D7262B","#123F6E","#F08424","#2B3C9E","#7D1C22"]}}}}
]},
{"title":"IgD+ CD38br %lymphocyte","width":137,"height":123,"layer":[
{"data":{"name":"pts"},"transform":[{"filter":"datum.p==12"}],"mark":{"type":"rule","color":"#B5B5B5","strokeWidth":0.7},
"encoding":{"x":{"field":"lo","type":"quantitative","scale":{"domain":[0.189,0.5],"nice":false,"zero":false},"axis":{"tickCount":100,"gridColor":"#FFFFFF","grid":true,"labelOverlap":false,"title":"SNP effect on IgD+ CD38br %lymphocyte","values":[0.2,0.25,0.3,0.35,0.4,0.45,0.5],"format":".1f","labelExpr":"indexof([0.2,0.3,0.4,0.5],datum.value)>=0?datum.label:''","gridWidth":{"condition":{"test":"indexof([0.2,0.3,0.4,0.5],datum.value)>=0","value":1.8},"value":0.9},"tickOpacity":{"condition":{"test":"indexof([0.2,0.3,0.4,0.5],datum.value)>=0","value":1},"value":0}}},
"x2":{"field":"hi"},
"y":{"field":"y","type":"quantitative","scale":{"domain":[-0.01923,0.01974],"nice":false,"zero":false},"axis":{"tickCount":100,"gridColor":"#FFFFFF","grid":true,"labelOverlap":false,"title":"SNP effect on Abdominal aortic aneurysm","values":[0.015,0.01,0.005,0,-0.005,-0.01,-0.015],"format":".2f","labelExpr":"indexof([0.01,0,-0.01],datum.value)>=0?datum.label:''","gridWidth":{"condition":{"test":"indexof([0.01,0,-0.01],datum.value)>=0","value":1.8},"value":0.9},"tickOpacity":{"condition":{"test":"indexof([0.01,0,-0.01],datum.value)>=0","value":1},"value":0}}}}},
{"data":{"name":"pts"},"transform":[{"filter":"datum.p==12"}],"mark":{"type":"circle","color":"#000000","size":16,"opacity":1},"encoding":{"x":{"field":"x","type":"quantitative"},"y":{"field":"y","type":"quantitative"}}},
{"data":{"name":"lines"},"transform":[{"filter":"datum.p==12"}],"mark":{"type":"rule","clip":true,"strokeWidth":0.9},"encoding":{"x":{"field":"x1","type":"quantitative"},"x2":{"field":"x2"},"y":{"field":"y1","type":"quantitative"},"y2":{"field":"y2"},"color":{"field":"m","type":"nominal","title":null,"scale":{"domain":["Inverse variance weighted","MR Egger","Weighted median","Simple mode","Weighted mode"],"range":["#D7262B","#123F6E","#F08424","#2B3C9E","#7D1C22"]}}}}
]}
],
"config": {
"font": "Liberation Sans",
"view": {"fill": "#EBEBEB", "stroke": null},
"axis": {"domain": false, "grid": true, "gridColor": "#FFFFFF", "gridOpacity": 1, "tickColor": "#333333", "tickSize": 2, "tickWidth": 0.6, "labelFontSize": 4, "labelColor": "#4D4D4D", "labelPadding": 1, "titleFontSize": 6.5, "titleFontWeight": "normal", "titleColor": "#000000", "labelOverlap": false, "labelFlush": false, "labelBound": false, "titleLimit": 400, "labelFont": "Liberation Sans", "titleFont": "Liberation Sans"},
"axisY": {"minExtent": 12, "maxExtent": 12, "titlePadding": 1},
"axisX": {"titlePadding": 2},
"title": {"fontSize": 10, "fontWeight": "bold", "offset": 2, "anchor": "middle", "color": "#000000", "font": "Liberation Sans"},
"legend": {"orient": "none", "legendX": 43, "legendY": -40, "direction": "horizontal", "columns": 5, "symbolType": "square", "symbolSize": 49, "symbolStrokeWidth": 7, "labelFontSize": 12.3, "labelFont": "Liberation Sans", "labelOffset": 4, "columnPadding": 2, "labelLimit": 400, "labelColor": "#000000"}
}
}
